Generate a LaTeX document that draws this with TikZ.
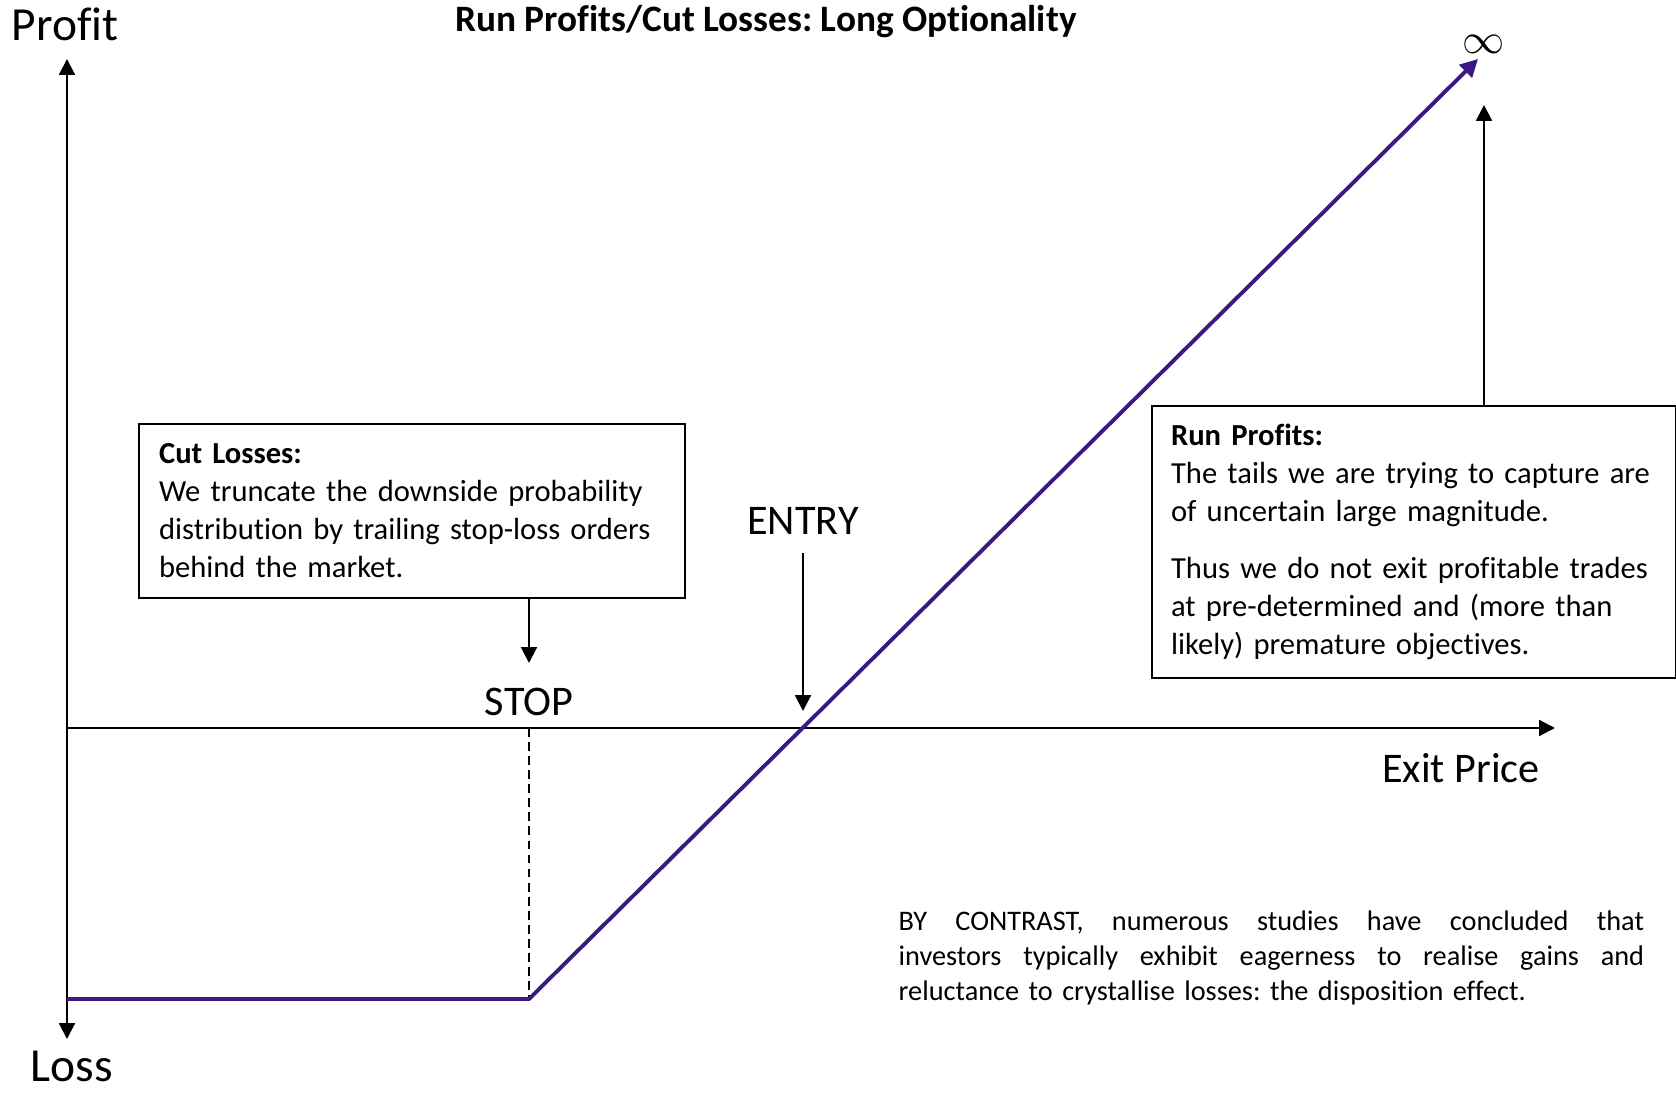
\documentclass[tikz,border=0pt]{standalone}
\usepackage{fontspec}
\setmainfont[Ligatures=NoCommon]{Carlito}
\usepackage{xcolor}
\usepackage{tikz}
\usetikzlibrary{arrows.meta, positioning}
\definecolor{payoff}{RGB}{58,26,130}
\frenchspacing
\tikzset{
  axis/.style={-{Triangle[length=4.5pt,width=4.5pt]}, line width=0.6pt},
  pointer/.style={-{Triangle[length=4.5pt,width=4.5pt]}, line width=0.6pt},
  payoffline/.style={-{Triangle[length=5pt,width=5pt]}, line width=1.1pt, payoff},
  guide/.style={line width=0.5pt, dash pattern=on 2.5pt off 1.5pt},
  notebox/.style={draw, line width=0.6pt, align=left, inner ysep=0pt,
    font=\fontsize{8.7}{10.8}\selectfont},
  biglabel/.style={font=\fontsize{12}{14}\selectfont},
  axislabel/.style={inner sep=0pt, font=\fontsize{13.5}{15}\selectfont},
  titletext/.style={font=\bfseries\fontsize{10.6}{12}\selectfont},
  every node/.style={font=\fontsize{8.7}{10.8}\selectfont}
}

\begin{document}
\begin{tikzpicture}[x=0.01cm, y=-0.01cm]
    \useasboundingbox (0,0) rectangle (1676,1095);
    % axes and reference points
    \coordinate (O) at (67,728);
    \coordinate (ytop) at (67,59);
    \coordinate (ybot) at (67,1039);
    \coordinate (xend) at (1555,728);
    \coordinate (floor) at (67,999);
    \coordinate (stop) at (529,999);
    \coordinate (tip) at (1478,59);
    \coordinate (stophead) at (529,663);
    \coordinate (entryhead) at (803,711);
    \coordinate (runhead) at (1484,105);

    \draw[axis] (O) -- (ytop);
    \draw[axis] (O) -- (ybot);
    \draw[axis] (O) -- (xend);
    \draw[guide] (O -| stop) -- (stop);

    % payoff profile
    \draw[payoffline] (floor) -- (stop) -- (tip);

    \node[titletext] (title) at (766,22) {Run Profits/Cut Losses: Long Optionality};
    \node[axislabel] (profit) at (65,24) {Profit};
    \node[axislabel] (loss) at (72,1066) {Loss};
    \node[biglabel] (exit) at (1461,768) {Exit Price};
    \node[biglabel] (stoplabel) at (529,702) {STOP};
    \node[biglabel, anchor=south, inner ysep=5pt] (entry) at (803,553) {ENTRY};
    \node[font=\fontsize{13}{14}\selectfont] (inf) at (1484,44) {$\infty$};

    \node[notebox, anchor=north west, text width=5.06cm, inner xsep=0.2cm,
      minimum height=1.735cm] (cutbox) at (138,423)
      {\textbf{Cut Losses:}\\
       We truncate the downside probability\\
       distribution by trailing stop-loss orders\\
       behind the market.};
    \node[notebox, anchor=north west, text width=4.86cm, inner xsep=0.19cm,
      minimum height=2.716cm] (runbox) at (1151,405)
      {\textbf{Run Profits:}\\
       The tails we are trying to capture are\\
       of uncertain large magnitude.\\[5.4pt]
       Thus we do not exit profitable trades\\
       at pre-determined and (more than\\
       likely) premature objectives.};

    \draw[pointer] (cutbox.south -| stophead) -- (stophead);
    \draw[pointer] (entry.south) -- (entryhead);
    \draw[pointer] (runbox.north -| runhead) -- (runhead);

    \node[anchor=north west, inner sep=0pt, text width=7.45cm, align=left,
      font=\fontsize{8.05}{10}\selectfont] (contrast) at (898,910)
      {\makebox[7.45cm]{BY\hfill CONTRAST,\hfill numerous\hfill studies\hfill have\hfill concluded\hfill that}\\
       \makebox[7.45cm]{investors\hfill typically\hfill exhibit\hfill eagerness\hfill to\hfill realise\hfill gains\hfill and}\\
       reluctance to crystallise losses: the disposition effect.};
\end{tikzpicture}
\end{document}
